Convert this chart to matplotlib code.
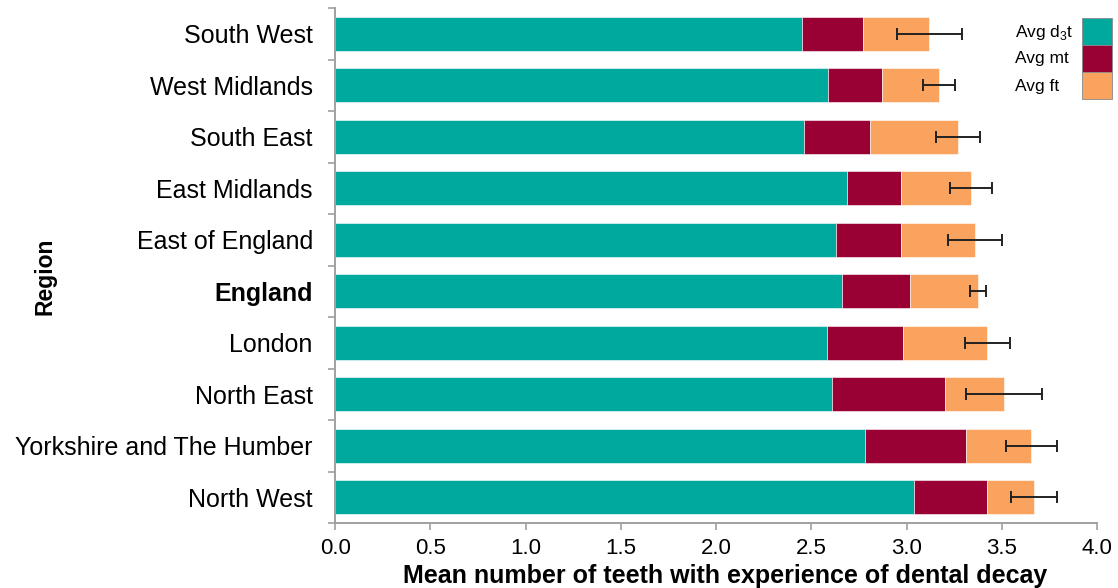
import matplotlib
matplotlib.use("Agg")
import matplotlib.pyplot as plt
import numpy as np
from matplotlib.patches import Rectangle

plt.rcParams["font.family"] = ["Liberation Sans", "DejaVu Sans"]
plt.rcParams["mathtext.fontset"] = "custom"
plt.rcParams["mathtext.rm"] = "Liberation Sans"

# top-to-bottom order as shown
regions = ["South West", "West Midlands", "South East", "East Midlands",
           "East of England", "England", "London", "North East",
           "Yorkshire and The Humber", "North West"]
avg_dt = [2.45, 2.59, 2.46, 2.69, 2.63, 2.66, 2.58, 2.61, 2.78, 3.04]
avg_mt = [0.32, 0.28, 0.35, 0.28, 0.34, 0.36, 0.40, 0.59, 0.53, 0.38]
avg_ft = [0.35, 0.30, 0.46, 0.37, 0.39, 0.355, 0.445, 0.31, 0.345, 0.25]
err = [0.17, 0.085, 0.115, 0.11, 0.14, 0.043, 0.12, 0.20, 0.135, 0.12]
legend_labels = ["Avg d$_\\mathregular{3}$t", "Avg mt", "Avg ft"]

C_DT = "#00A99D"
C_MT = "#990033"
C_FT = "#F9A35E"
GREY = "#a0a0a0"

y = np.arange(len(regions))
dt = np.array(avg_dt); mt = np.array(avg_mt); ft = np.array(avg_ft)
total = dt + mt + ft

fig = plt.figure(figsize=(11.18, 5.88), dpi=100)
ax = fig.add_axes([0.2997, 0.1105, 0.6815, 0.8755])

h = 0.66
ax.barh(y, dt, height=h, color=C_DT, edgecolor="white", linewidth=0.4)
ax.barh(y, mt, left=dt, height=h, color=C_MT, edgecolor="white", linewidth=0.4)
ax.barh(y, ft, left=dt + mt, height=h, color=C_FT, edgecolor="white",
        linewidth=0.4)
ax.errorbar(total, y, xerr=err, fmt="none", ecolor="#222222",
            elinewidth=1.4, capsize=4, capthick=1.4)

ax.set_ylim(len(regions) - 0.5, -0.5)
ax.set_xlim(0, 4.0)
ax.set_xticks(np.arange(0, 4.01, 0.5))
ax.set_xticklabels([f"{v:.1f}" for v in np.arange(0, 4.01, 0.5)], fontsize=16)

ax.set_yticks(y)
ax.set_yticklabels(regions, fontsize=18)
ax.set_yticks(np.arange(-0.5, len(regions)), minor=True)
ax.tick_params(axis="y", which="major", length=0, pad=16)
ax.tick_params(axis="y", which="minor", length=5, color=GREY, width=1.2)
ax.tick_params(axis="x", length=5, color=GREY, width=1.2, pad=6)
for lbl in ax.get_yticklabels():
    if lbl.get_text() == "England":
        lbl.set_fontweight("bold")

for s in ["top", "right"]:
    ax.spines[s].set_visible(False)
for s in ["left", "bottom"]:
    ax.spines[s].set_color(GREY)
    ax.spines[s].set_linewidth(1.4)

ax.set_xlabel("Mean number of teeth with experience of dental decay",
              fontsize=18, fontweight="bold", va="baseline")
ax.xaxis.set_label_coords(0.512, -0.1165)
ax.set_ylabel("Region", fontsize=16.5, fontweight="bold")
ax.yaxis.set_label_coords(-0.365, 0.48)

# legend: left-aligned labels with stacked colour boxes on the right
box_w, box_h = 30 / 1118, 27 / 588
x_box = 1082 / 1118
top = 1 - 18 / 588
for i, (lab, col) in enumerate(zip(legend_labels, [C_DT, C_MT, C_FT])):
    y0 = top - (i + 1) * box_h
    fig.patches.append(Rectangle((x_box, y0), box_w, box_h, transform=fig.transFigure,
                                 facecolor=col, edgecolor="#8a8a8a", linewidth=0.6))
    fig.text(1015 / 1118, y0 + box_h / 2 - 5 / 588, lab, fontsize=12.5,
             ha="left", va="baseline")

fig.savefig("out.png", dpi=100)
